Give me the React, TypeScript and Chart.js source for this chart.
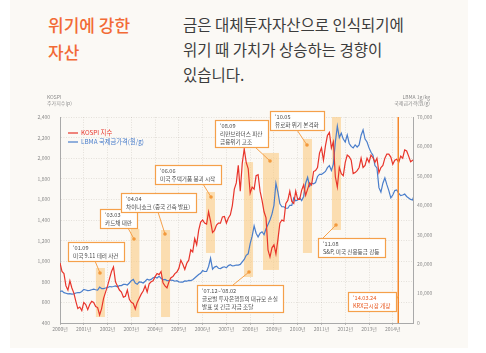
import React, { useEffect, useRef } from "react";
import { Chart, registerables } from "chart.js";

Chart.register(...registerables);

const START_YEAR = 2000;
const END_YEAR = 2014.85;

// KOSPI monthly (Jan 2000 - Dec 2014)
const kospi = [
  983, 900, 880, 760, 720, 810, 740, 690, 610, 540, 555, 520,
  600, 580, 530, 580, 610, 600, 560, 550, 478, 540, 640, 700,
  760, 830, 900, 944, 800, 760, 720, 700, 650, 660, 720, 630,
  600, 590, 536, 600, 640, 680, 710, 760, 700, 780, 800, 810,
  850, 880, 870, 900, 790, 760, 740, 800, 840, 850, 880, 895,
  930, 1010, 970, 920, 980, 1010, 1110, 1090, 1220, 1160, 1300, 1380,
  1400, 1370, 1360, 1480, 1390, 1280, 1300, 1350, 1370, 1370, 1430, 1434,
  1370, 1420, 1450, 1540, 1700, 1760, 1930, 1680, 1950, 2090, 1960, 1900,
  1660, 1720, 1700, 1830, 1840, 1680, 1590, 1480, 1420, 1110, 1040, 1130,
  1160, 1070, 1210, 1370, 1400, 1390, 1560, 1590, 1680, 1580, 1560, 1680,
  1600, 1600, 1690, 1740, 1640, 1700, 1760, 1740, 1870, 1880, 1910, 2050,
  2100, 1980, 2120, 2220, 2250, 2100, 2160, 1820, 1720, 1910, 1850, 1830,
  1960, 2030, 2014, 1980, 1850, 1860, 1880, 1910, 2000, 1910, 1930, 2000,
  1960, 2030, 2005, 1960, 2000, 1860, 1910, 1930, 2000, 2040, 2040, 2011,
  1940, 1980, 1990, 1960, 2020, 2000, 2080, 2070, 2020, 1965, 1980, 1990,
];

// LBMA gold price in KRW per gram (Jan 2000 - Dec 2014)
const gold = [
  10700, 10900, 10300, 10100, 9900, 10000, 9800, 9900, 10200, 10300, 10300, 10700,
  11400, 11200, 11000, 11100, 11300, 11500, 11300, 11200, 12200, 11700, 11700, 11900,
  12000, 12400, 12300, 12400, 12600, 12300, 12700, 12700, 13100, 13100, 12900, 13600,
  14400, 14800, 13600, 13200, 14000, 13900, 13600, 14200, 14900, 14600, 14800, 15400,
  15600, 15300, 15900, 15200, 14700, 14800, 14400, 14400, 14600, 14500, 14200, 14400,
  14000, 13900, 13900, 14300, 14200, 14500, 14400, 14700, 15300, 15900, 16500, 16900,
  17800, 17500, 17500, 19200, 22000, 18300, 19000, 19300, 18600, 18500, 18900, 19100,
  18800, 19500, 19800, 19400, 19500, 19700, 19700, 19900, 20800, 21600, 23000, 23500,
  27000, 29500, 33000, 30500, 29200, 30500, 31000, 30000, 32000, 33500, 35000, 37000,
  40000, 47500, 44500, 40500, 39500, 39500, 39000, 39000, 40000, 40000, 42500, 41500,
  41800, 42500, 41600, 43000, 47500, 49500, 46500, 47500, 47300, 47700, 49800, 50500,
  50500, 51000, 51500, 52800, 53500, 51800, 54000, 61500, 66900, 63000, 64500, 62500,
  61500, 63900, 61000, 60000, 59500, 60500, 59800, 60500, 63800, 65600, 62500, 61500,
  59500, 58000, 57000, 53500, 52700, 46000, 44500, 47500, 49300, 47000, 45000, 42500,
  43500, 45000, 45200, 44000, 43300, 43500, 43800, 43000, 42500, 42000, 41800, 44000,
];

const seriesLabels = ["KOSPI 지수", "LBMA 국제금가격(원/g)"];
const leftAxisTitle = ["KOSPI", "주가지수(p)"];
const rightAxisTitle = ["LBMA 1g/kg", "국제금가격(원/g)"];

// crisis periods: [from year, to year, top KOSPI, bottom KOSPI]
const bandFrom = [2001.51, 2002.97, 2004.25, 2006.14, 2007.74, 2008.54, 2010.22, 2011.44];
const bandTo = [2001.89, 2003.34, 2004.63, 2006.52, 2008.12, 2009.21, 2010.6, 2011.82];
const bandTop = [934, 1313, 1303, 1672, 1962, 2051, 2187, 2400];
const bandBottom = [458, 458, 458, 1080, 847, 915, 1080, 1303];

const KRX_OPEN = 2014.23;

const FONT = '"Noto Sans CJK KR", "Noto Sans", sans-serif';

type Note = {
  lines: string[];
  box: [number, number];
  dot: [number, number];
  tail: number;
  side: "auto" | "right";
  color?: string;
  dotVisible?: boolean;
};

// drawn in this order (later on top)
const notes: Note[] = [
  { lines: ["'01.09", "미국 9.11 테러 사건"], box: [2000.337, 1186], dot: [2001.683, 886], tail: -5, side: "auto" },
  { lines: ["'03.03", "카드채 대란"], box: [2001.683, 1507], dot: [2003.113, 1216], tail: -6, side: "auto" },
  { lines: ["'04.04", "차이나쇼크 (중국 긴축 발표)"], box: [2002.566, 1664], dot: [2004.417, 1264], tail: -7, side: "auto" },
  { lines: ["'06.06", "미국 주택거품 붕괴 시작"], box: [2003.997, 1934], dot: [2006.353, 1623], tail: -8, side: "auto" },
  { lines: ["'07.12~'08.02", "글로벌 투자은행들의 대규모 손실", "발표 및 긴급 자금 조달"], box: [2005.764, 769], dot: [2007.951, 895], tail: -16, side: "auto" },
  { lines: ["'08.09", "리만브라더스 파산", "금융위기 고조"], box: [2006.521, 2371], dot: [2008.835, 1973], tail: -15, side: "auto" },
  { lines: ["'10.05", "유로화 위기 본격화"], box: [2008.835, 2458], dot: [2010.391, 2128], tail: -10, side: "auto" },
  { lines: ["'11.08", "S&P, 미국 신용등급 강등"], box: [2010.854, 1225], dot: [2011.611, 1351], tail: -13, side: "auto" },
  { lines: ["'14.03.24", "KRX금시장 개장"], box: [2012.116, 701], dot: [KRX_OPEN, 662], tail: 4, side: "right", color: "#e8561c", dotVisible: false },
];

const NOTE_SIZE = 5.6;
const ORANGE = "#f5a04a";

function App() {
  const ref = useRef<HTMLCanvasElement>(null);

  useEffect(() => {
    const canvas = ref.current;
    if (!canvas) return;

    const overlay = {
      id: "overlay",
      beforeDatasetsDraw(chart: any) {
        const { ctx, scales } = chart;
        const xs = scales.x;
        const ys = scales.y;
        ctx.save();
        ctx.fillStyle = "rgba(252, 198, 118, 0.55)";
        for (let i = 0; i < bandFrom.length; i++) {
          const x1 = xs.getPixelForValue(bandFrom[i]);
          const x2 = xs.getPixelForValue(bandTo[i]);
          const y1 = ys.getPixelForValue(bandTop[i]);
          const y2 = ys.getPixelForValue(bandBottom[i]);
          ctx.fillRect(x1, y1, x2 - x1, y2 - y1);
        }
        ctx.restore();
      },
      afterDatasetsDraw(chart: any) {
        const { ctx, scales, chartArea } = chart;
        const xs = scales.x;
        const ys = scales.y;
        ctx.save();

        // KRX event line
        const ex = xs.getPixelForValue(KRX_OPEN);
        ctx.strokeStyle = "#f4862a";
        ctx.lineWidth = 1.5;
        ctx.beginPath();
        ctx.moveTo(ex, chartArea.top);
        ctx.lineTo(ex, chartArea.bottom);
        ctx.stroke();

        // annotations
        ctx.font = `${NOTE_SIZE}px ${FONT}`;
        for (const n of notes) {
          const bx = Math.round(xs.getPixelForValue(n.box[0]));
          const by = Math.round(ys.getPixelForValue(n.box[1]));
          const w = Math.ceil(Math.max(...n.lines.map((l) => ctx.measureText(l).width)) + 10);
          const h = n.lines.length * 8 + 3;
          const dx = xs.getPixelForValue(n.dot[0]);
          const dy = ys.getPixelForValue(n.dot[1]);
          let sx: number, sy: number;
          if (n.side === "right") {
            sx = bx + w;
            sy = dy + n.tail;
          } else if (dy > by + h) {
            sx = dx + n.tail;
            sy = by + h;
          } else {
            sx = dx + n.tail;
            sy = by;
          }
          ctx.strokeStyle = ORANGE;
          ctx.lineWidth = 1;
          ctx.beginPath();
          ctx.moveTo(sx, sy);
          ctx.lineTo(dx, dy);
          ctx.stroke();
          if (n.dotVisible !== false) {
            ctx.fillStyle = "#f39a3c";
            ctx.beginPath();
            ctx.arc(dx, dy, 1.8, 0, Math.PI * 2);
            ctx.fill();
          }
          ctx.fillStyle = "#ffffff";
          ctx.fillRect(bx, by, w, h);
          ctx.strokeStyle = ORANGE;
          ctx.lineWidth = 1.2;
          ctx.strokeRect(bx + 0.5, by + 0.5, w, h);
          ctx.fillStyle = n.color || "#4a4a4a";
          ctx.textBaseline = "middle";
          ctx.textAlign = "left";
          n.lines.forEach((l, i) => {
            ctx.fillText(l, bx + 5, by + 5.5 + i * 8);
          });
        }

        // axis titles
        ctx.fillStyle = "#8a8a8a";
        ctx.font = `5px ${FONT}`;
        ctx.textBaseline = "middle";
        ctx.textAlign = "left";
        ctx.fillText(leftAxisTitle[0], chartArea.left - 13, chartArea.top - 20);
        ctx.fillText(leftAxisTitle[1], chartArea.left - 13, chartArea.top - 14);
        ctx.textAlign = "right";
        ctx.fillText(rightAxisTitle[0], chartArea.right + 17, chartArea.top - 20);
        ctx.fillText(rightAxisTitle[1], chartArea.right + 17, chartArea.top - 14);

        // legend
        const colors = ["#e8352b", "#4a7ecb"];
        ctx.font = `6.3px ${FONT}`;
        ctx.textAlign = "left";
        seriesLabels.forEach((lab, i) => {
          const ly = chartArea.top + 16 + i * 9;
          ctx.strokeStyle = colors[i];
          ctx.lineWidth = 1.2;
          ctx.beginPath();
          ctx.moveTo(chartArea.left + 8, ly);
          ctx.lineTo(chartArea.left + 18, ly);
          ctx.stroke();
          ctx.fillStyle = colors[i];
          ctx.fillText(lab, chartArea.left + 21, ly);
        });

        ctx.restore();
      },
    };

    const tickFont = { family: FONT, size: 5 };
    const gridColor = "rgba(120, 110, 100, 0.22)";

    const chart = new Chart(canvas, {
      type: "line",
      data: {
        datasets: [
          {
            label: seriesLabels[0],
            data: kospi.map((v, i) => ({ x: START_YEAR + i / 12, y: v })),
            borderColor: "#e8352b",
            borderWidth: 1.2,
            pointRadius: 0,
            tension: 0,
            yAxisID: "y",
          },
          {
            label: seriesLabels[1],
            data: gold.map((v, i) => ({ x: START_YEAR + i / 12, y: v })),
            borderColor: "#4a7ecb",
            borderWidth: 1.2,
            pointRadius: 0,
            tension: 0,
            yAxisID: "y1",
          },
        ],
      },
      options: {
        responsive: false,
        maintainAspectRatio: false,
        animation: false,
        layout: { padding: { top: 117, left: 0, right: 0, bottom: 0 } },
        plugins: {
          legend: { display: false },
          tooltip: { enabled: false },
          title: { display: false },
        },
        scales: {
          x: {
            type: "linear",
            min: START_YEAR,
            max: END_YEAR,
            afterBuildTicks: (s: any) => {
              const t = [];
              for (let yv = START_YEAR; yv <= 2014; yv++) t.push({ value: yv });
              s.ticks = t;
            },
            ticks: {
              callback: (v: any) => `${Math.round(Number(v))}년`,
              font: tickFont,
              color: "#8a8a8a",
              padding: 1,
              maxRotation: 0,
              autoSkip: false,
            },
            grid: {
              color: gridColor,
              lineWidth: 0.8,
              drawTicks: true,
              tickLength: 2,
              tickColor: "#aaaaaa",
              tickBorderDash: [],
            },
            border: { display: true, color: "#a9a9a9", width: 1, dash: [1, 1.5] },
            afterFit: (s: any) => {
              s.height = 30;
            },
          },
          y: {
            position: "left",
            min: 400,
            max: 2400,
            ticks: {
              stepSize: 200,
              callback: (v: any) => Number(v).toLocaleString("en-US"),
              font: tickFont,
              color: "#8a8a8a",
              padding: 10,
            },
            grid: { color: gridColor, lineWidth: 0.8, drawTicks: false },
            border: { display: true, color: "#a9a9a9", width: 1, dash: [1, 1.5] },
            afterFit: (s: any) => {
              s.width = 60;
            },
          },
          y1: {
            position: "right",
            min: 0,
            max: 70000,
            ticks: {
              stepSize: 10000,
              callback: (v: any) => Number(v).toLocaleString("en-US"),
              font: tickFont,
              color: "#8a8a8a",
              padding: 4,
            },
            grid: { display: false, drawTicks: false },
            border: { display: true, color: "#a9a9a9", width: 1 },
            afterFit: (s: any) => {
              s.width = 73;
            },
          },
        },
      },
      plugins: [overlay],
    } as any);

    return () => chart.destroy();
  }, []);

  return (
    <div
      style={{
        position: "fixed",
        left: 0,
        top: 0,
        width: 486,
        height: 353,
        background: "#ffffff",
        overflow: "hidden",
      }}
    >
      <div
        style={{
          position: "absolute",
          left: 10,
          top: 0,
          width: 458,
          height: 348,
          background: "#fbf9f5",
        }}
      />
      <div
        style={{
          position: "absolute",
          left: 48,
          top: 11,
          fontFamily: FONT,
          fontSize: 17,
          lineHeight: "27px",
          color: "#f26a36",
          fontWeight: 500,
          whiteSpace: "nowrap",
        }}
      >
        위기에 강한
        <br />
        자산
      </div>
      <div
        style={{
          position: "absolute",
          left: 183,
          top: 12,
          fontFamily: FONT,
          fontSize: 15.5,
          lineHeight: "25px",
          color: "#3c3c3c",
          whiteSpace: "nowrap",
        }}
      >
        금은 대체투자자산으로 인식되기에
        <br />
        위기 때 가치가 상승하는 경향이
        <br />
        있습니다.
      </div>
      <canvas
        ref={ref}
        width={486}
        height={353}
        style={{ position: "absolute", left: 0, top: 0, width: 486, height: 353 }}
      />
    </div>
  );
}

export default App;
